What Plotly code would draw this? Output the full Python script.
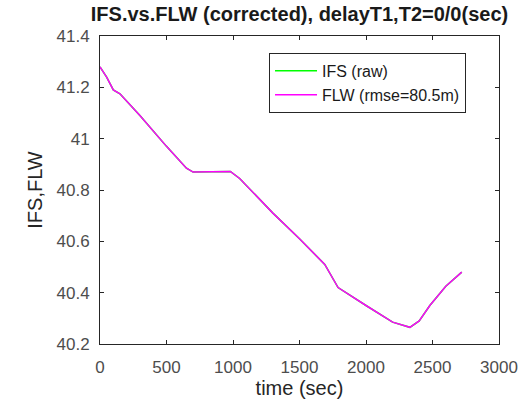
import plotly.graph_objects as go

t_sec = [0, 50, 100, 150, 300, 500, 650, 700, 980, 1050, 1300, 1500, 1690, 1790, 2000, 2200, 2330, 2400, 2480, 2600, 2720]
ifs_raw = [41.28, 41.24, 41.19, 41.175, 41.09, 40.97, 40.885, 40.87, 40.872, 40.845, 40.71, 40.61, 40.51, 40.42, 40.35, 40.285, 40.265, 40.29, 40.35, 40.425, 40.48]
flw = [41.28, 41.24, 41.19, 41.175, 41.09, 40.97, 40.885, 40.87, 40.872, 40.845, 40.71, 40.61, 40.51, 40.42, 40.35, 40.285, 40.265, 40.29, 40.35, 40.425, 40.48]

x_ticks = [0, 500, 1000, 1500, 2000, 2500, 3000]
y_ticks = [40.2, 40.4, 40.6, 40.8, 41, 41.2, 41.4]
y_ticklabels = ["40.2", "40.4", "40.6", "40.8", "41", "41.2", "41.4"]

FONT = "Liberation Sans, Arial, sans-serif"

fig = go.Figure()
fig.add_trace(go.Scatter(x=t_sec, y=ifs_raw, mode="lines", name="IFS (raw)",
                         line=dict(color="#00ff00", width=1.5)))
fig.add_trace(go.Scatter(x=t_sec, y=flw, mode="lines", name="FLW (rmse=80.5m)",
                         line=dict(color="#ff00ff", width=1.5)))

axis_common = dict(showline=True, linecolor="#262626", linewidth=1, mirror="ticks",
                   ticks="inside", ticklen=4, tickcolor="#262626", showgrid=False,
                   zeroline=False, tickfont=dict(family=FONT, size=17, color="#4d4d4d"),
                   automargin=False)

fig.update_layout(
    width=520, height=404,
    margin=dict(l=100, r=21, t=36, b=60),
    paper_bgcolor="white", plot_bgcolor="white",
    title=dict(text="<b>IFS.vs.FLW (corrected), delayT1,T2=0/0(sec)</b>",
               x=0.5, xanchor="center", xref="paper", y=1 - 14/404, yanchor="middle",
               font=dict(family=FONT, size=20, color="#1a1a1a")),
    xaxis=dict(range=[0, 3000], tickvals=x_ticks, ticklabelstandoff=8, **axis_common,
               title=dict(text="time (sec)", font=dict(family=FONT, size=20, color="#262626"), standoff=4)),
    yaxis=dict(range=[40.2, 41.4], tickvals=y_ticks, ticktext=y_ticklabels, ticklabelstandoff=6, **axis_common,
               title=dict(text="IFS,FLW", font=dict(family=FONT, size=20, color="#262626"), standoff=8)),
    legend=dict(x=0.4236, y=0.945, xanchor="left", yanchor="top",
                bgcolor="white", bordercolor="#262626", borderwidth=1,
                font=dict(family=FONT, size=16, color="#1a1a1a"),
                tracegroupgap=0, itemwidth=42),
    showlegend=True,
)

fig.write_html("out.html")
